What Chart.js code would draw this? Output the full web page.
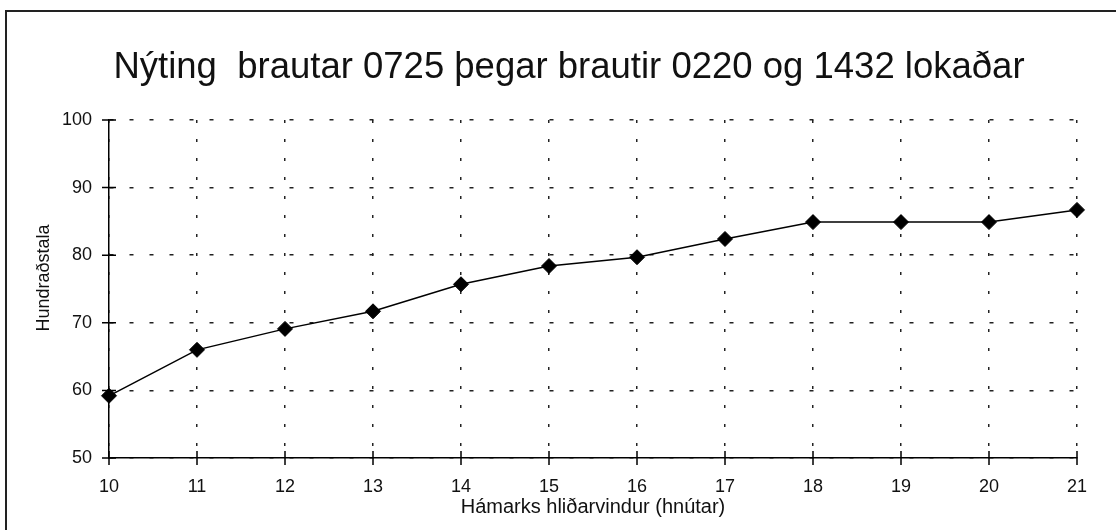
<!DOCTYPE html>
<html>
<head>
<meta charset="utf-8">
<script src="https://cdn.jsdelivr.net/npm/chart.js@4.4.0/dist/chart.umd.min.js"></script>
<style>
  html, body { margin: 0; padding: 0; background: #fff; }
  #wrap { width: 1116px; height: 530px; }
</style>
</head>
<body>
<div id="wrap"><canvas id="nytingChart" width="1116" height="530"></canvas></div>
<script>
// --- data ---
const categories = ['10', '11', '12', '13', '14', '15', '16', '17', '18', '19', '20', '21'];
const nyting = [59.2, 66.0, 69.1, 71.7, 75.7, 78.4, 79.7, 82.4, 84.9, 84.9, 84.9, 86.7];
const yMin = 50;
const yMax = 100;
const yStep = 10;

const chartTitle = 'Nýting  brautar 0725 þegar brautir 0220 og 1432 lokaðar';
const xTitle = 'Hámarks hliðarvindur (hnútar)';
const yTitle = 'Hundraðstala';

const FONT = "'Liberation Sans', Arial, sans-serif";
Chart.defaults.font.family = FONT;
Chart.defaults.color = '#111';

// frame, big title, y title and the cross tick marks
const paperPlugin = {
    id: 'paper',
    afterDraw(chart) {
        const { ctx, chartArea, scales } = chart;
        ctx.save();

        // outer frame (only top + left visible in the scan)
        ctx.strokeStyle = '#222';
        ctx.lineWidth = 2;
        ctx.beginPath();
        ctx.moveTo(6, 530);
        ctx.lineTo(6, 11);
        ctx.lineTo(1116, 11);
        ctx.stroke();

        // title
        ctx.fillStyle = '#111';
        ctx.font = '36.5px ' + FONT;
        ctx.textAlign = 'center';
        ctx.textBaseline = 'alphabetic';
        ctx.fillText(chartTitle, 569, 78);

        // y axis title, sits a bit above the middle in the scan
        ctx.save();
        ctx.translate(44, 278);
        ctx.rotate(-Math.PI / 2);
        ctx.font = '18px ' + FONT;
        ctx.textBaseline = 'middle';
        ctx.fillText(yTitle, 0, 0);
        ctx.restore();

        // ticks crossing the axes
        ctx.strokeStyle = '#000';
        ctx.lineWidth = 1.5;
        ctx.beginPath();
        scales.y.ticks.forEach(t => {
            const py = scales.y.getPixelForValue(t.value);
            ctx.moveTo(chartArea.left - 7, py);
            ctx.lineTo(chartArea.left + 7, py);
        });
        categories.forEach((c, i) => {
            const px = scales.x.getPixelForValue(i);
            ctx.moveTo(px, chartArea.bottom - 7);
            ctx.lineTo(px, chartArea.bottom + 7);
        });
        ctx.stroke();
        ctx.restore();
    }
};

const ctx = document.getElementById('nytingChart').getContext('2d');
const nytingChart = new Chart(ctx, {
    type: 'line',
    data: {
        labels: categories,
        datasets: [{
            label: 'Nýting',
            data: nyting,
            borderColor: '#000',
            borderWidth: 1.5,
            backgroundColor: '#000',
            pointStyle: 'rectRot',
            pointRadius: 7.5,
            pointBorderWidth: 1,
            pointBackgroundColor: '#000',
            pointBorderColor: '#000',
            tension: 0,
            clip: false
        }]
    },
    options: {
        responsive: false,
        animation: false,
        devicePixelRatio: 1,
        layout: {
            padding: { top: 120, right: 39, bottom: 0, left: 0 }
        },
        plugins: {
            legend: { display: false },
            title: { display: false },
            tooltip: { enabled: false }
        },
        scales: {
            x: {
                type: 'category',
                offset: false,
                afterFit: s => { s.height = 72; },
                grid: {
                    offset: false,
                    color: '#222',
                    lineWidth: 1.5,
                    drawTicks: false
                },
                border: { display: true, color: '#000', width: 1.5, dash: [3, 16] },
                ticks: {
                    padding: 18,
                    maxRotation: 0,
                    autoSkip: false,
                    font: { size: 18 },
                    color: '#111'
                },
                title: {
                    display: true,
                    text: xTitle,
                    font: { size: 20 },
                    color: '#111',
                    padding: { top: 0, bottom: 11 }
                }
            },
            y: {
                min: yMin,
                max: yMax,
                afterFit: s => { s.width = 109; },
                grid: {
                    color: '#222',
                    lineWidth: 1.5,
                    drawTicks: false
                },
                border: { display: true, color: '#000', width: 1.5, dash: [4, 16] },
                ticks: {
                    stepSize: yStep,
                    padding: 17,
                    font: { size: 18 },
                    color: '#111'
                }
            }
        }
    },
    plugins: [paperPlugin]
});
</script>
</body>
</html>
